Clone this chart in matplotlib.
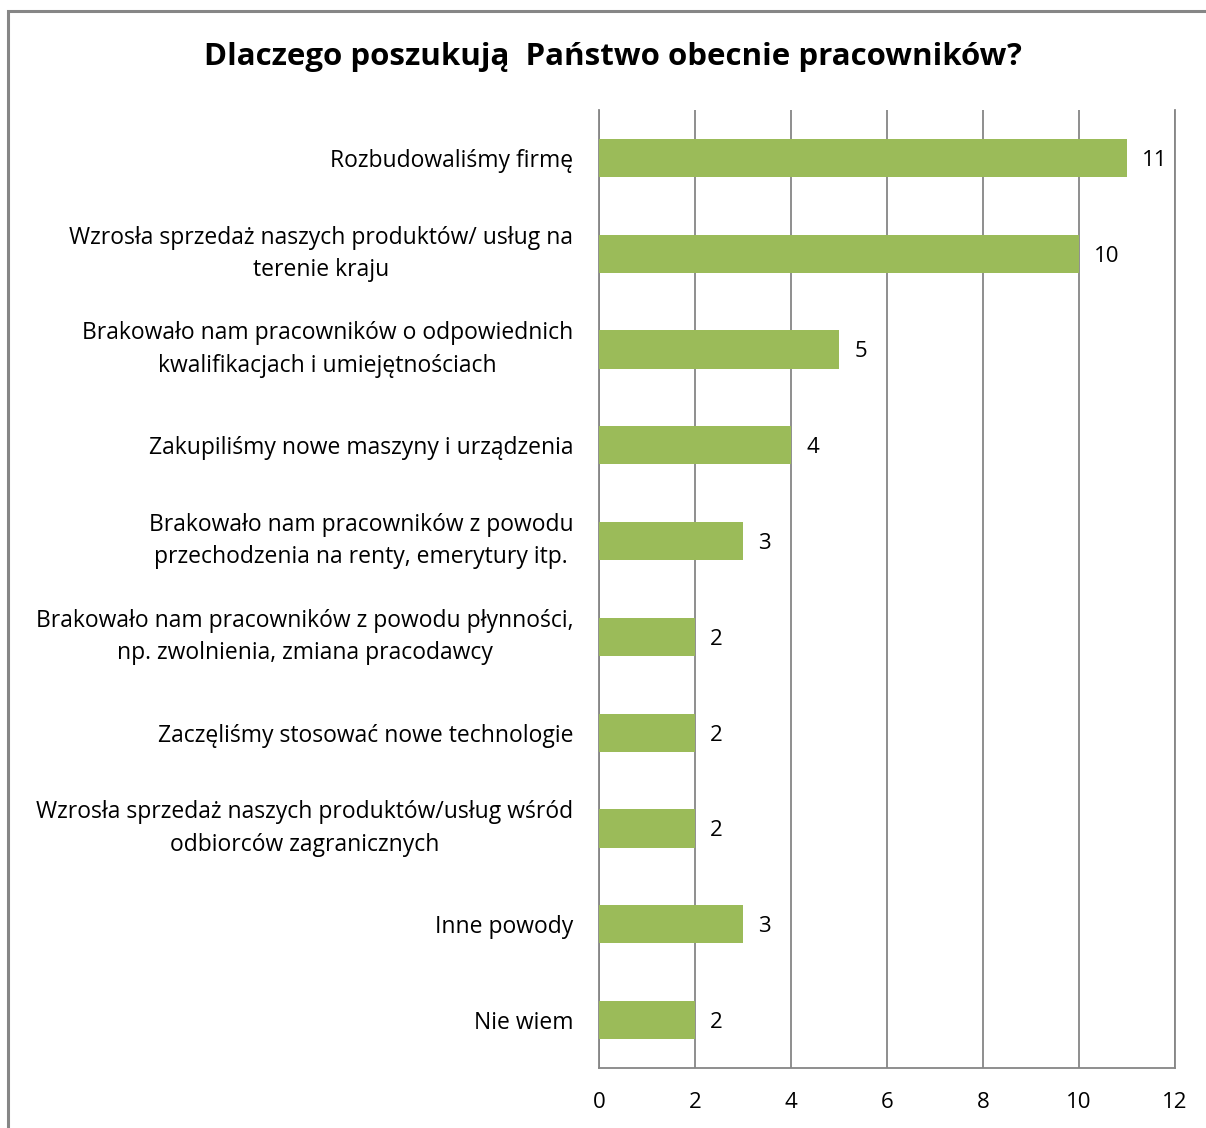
import matplotlib
matplotlib.use("Agg")
import matplotlib.pyplot as plt
from matplotlib.patches import Rectangle

categories = [
    "Rozbudowaliśmy firmę",
    "Wzrosła sprzedaż naszych produktów/ usług na\nterenie kraju",
    "Brakowało nam pracowników o odpowiednich\nkwalifikacjach i umiejętnościach",
    "Zakupiliśmy nowe maszyny i urządzenia",
    "Brakowało nam pracowników z powodu\nprzechodzenia na renty, emerytury itp.",
    "Brakowało nam pracowników z powodu płynności,\nnp. zwolnienia, zmiana pracodawcy",
    "Zaczęliśmy stosować nowe technologie",
    "Wzrosła sprzedaż naszych produktów/usług wśród\nodbiorców zagranicznych",
    "Inne powody",
    "Nie wiem",
]
values = [11, 10, 5, 4, 3, 2, 2, 2, 3, 2]
x_ticks = [0, 2, 4, 6, 8, 10, 12]
title = "Dlaczego poszukują  Państwo obecnie pracowników?"

FONT = ["Open Sans", "DejaVu Sans"]
GRID = "#868686"
BAR = "#9BBB59"

W, H = 1206, 1128
fig = plt.figure(figsize=(W / 100, H / 100), dpi=100)
fig.patch.set_facecolor("white")

# outer chart frame
fig.add_artist(Rectangle((8 / W, -0.05), 1.2, 1 - 10.5 / H + 0.05,
                         transform=fig.transFigure, fill=False,
                         edgecolor=GRID, linewidth=2.2))

ax = fig.add_axes([599 / W, 1 - 1068 / H, (1175 - 599) / W, (1068 - 110) / H])
y = list(range(len(categories)))
ax.barh(y, values, height=0.4, color=BAR, zorder=3)
ax.set_ylim(len(categories) - 0.5, -0.5)
ax.set_xlim(0, 12)
ax.set_xticks(x_ticks)
ax.set_xticklabels([str(t) for t in x_ticks], family=FONT, fontsize=16)
ax.set_yticks(y)
ax.set_yticklabels(categories, family=FONT, fontsize=16.5,
                   multialignment="center", linespacing=1.45)
# two-line labels are centred on their whole block
for lbl in ax.get_yticklabels():
    if "\n" in lbl.get_text():
        lbl.set_verticalalignment("center")
ax.tick_params(axis="both", length=0)
ax.tick_params(axis="y", pad=18.5)
ax.tick_params(axis="x", pad=17)
ax.grid(axis="x", color=GRID, linewidth=1.3, zorder=0)
ax.spines["top"].set_visible(False)
for side in ("left", "right", "bottom"):
    ax.spines[side].set_color(GRID)
    ax.spines[side].set_linewidth(1.3)

for yi, v in zip(y, values):
    ax.annotate(str(v), (v, yi), xytext=(11, 0), textcoords="offset points",
                ha="left", va="center_baseline", family=FONT, fontsize=16)

fig.text(613 / W, 1 - 57 / H, title, ha="center", va="center",
         family=FONT, fontsize=22.5, fontweight="bold")

fig.savefig("out.png", dpi=100)
